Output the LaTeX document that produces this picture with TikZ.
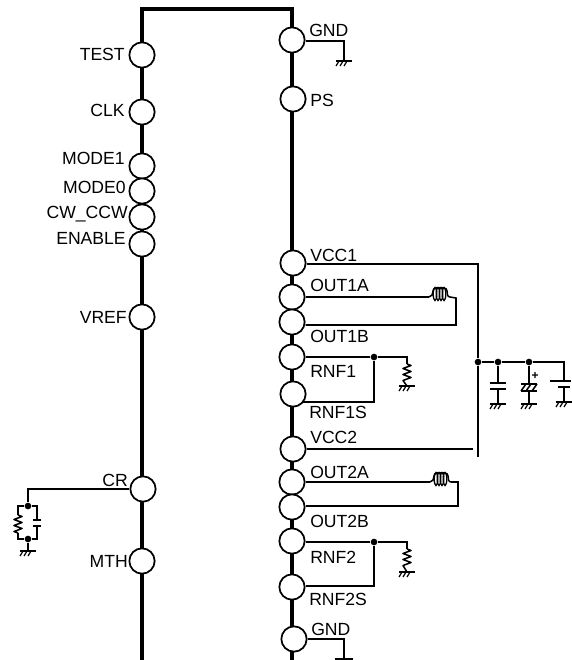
\documentclass[tikz,border=0pt]{standalone}
\usepackage{fontspec}
\setmainfont{Liberation Sans}
\newcommand{\gndsym}[2]{% plate with hatches at x,y
  \draw[wire] (#1-8,#2) -- (#1+8,#2);
  \foreach \dx in {-5,-1,3} \draw[hatch] (#1+\dx,#2) -- (#1+\dx-3,#2+5);
}
\newcommand{\vres}[3]{% vertical zigzag resistor at x from y1 to y2
  \draw[wire,line join=round] (#1,#2)
    -- ++(4,1.5) -- ++(-8,3) -- ++(8,3) -- ++(-8,3) -- ++(8,3) -- ++(-8,3) -- (#1,#3);
}
\newcommand{\coilsym}[2]{% coil starting at x,y, 21 px wide
  \draw[wire] (#1,#2) to[out=0,in=-90] (#1+4,#2-6) to[out=90,in=180] (#1+7,#2-9)
     -- (#1+15,#2-9) to[out=0,in=90] (#1+18,#2-6) to[out=-90,in=180] (#1+21,#2);
  \foreach \dx in {6,9,12,15}
    \draw[coilwire] (#1+\dx,#2-3) ellipse (1.8 and 6.5);
}
\tikzset{
  x=0.75pt,y=-0.75pt,
  wire/.style={line width=1.15pt},
  hatch/.style={line width=0.9pt},
  coilwire/.style={line width=1pt},
  pin/.style={circle,draw,fill=white,line width=1.3pt,minimum size=19pt,inner sep=0pt},
  dot/.style={circle,fill=black,inner sep=0pt,minimum size=5pt},
  lbl/.style={inner sep=0pt,font=\fontsize{13.2}{13.2}\selectfont},
  ll/.style={lbl,anchor=base east},
  rl/.style={lbl,anchor=base west},
}
\begin{document}
\begin{tikzpicture}
\useasboundingbox (0,0) rectangle (571,660);
% body
\coordinate (bl) at (142,660); \coordinate (tl) at (142,9);
\coordinate (tr) at (292,9);   \coordinate (br) at (292,660);
\draw[line width=2.8pt,line join=miter] (bl) -- (tl) -- (tr) -- (br);
% left pins
\node[pin] (test) at (142,55) {};
\node[pin] (clk) at (142,112) {};
\node[pin] (mode1) at (142,166) {};
\node[pin] (mode0) at (142,191) {};
\node[pin] (cw) at (142,217) {};
\node[pin] (enable) at (142,244) {};
\node[pin] (vref) at (142,317) {};
\node[pin] (cr) at (143,489) {};
\node[pin] (mth) at (142,561) {};
% right pins
\node[pin] (gnda) at (292,40) {};
\node[pin] (ps) at (293,99) {};
\node[pin] (vcca) at (293,263) {};
\node[pin] (outaa) at (292,297) {};
\node[pin] (outab) at (292,322) {};
\node[pin] (rnfa) at (292,357) {};
\node[pin] (rnfas) at (293,394) {};
\node[pin] (vccb) at (293,449) {};
\node[pin] (outba) at (292,482) {};
\node[pin] (outbb) at (292,507) {};
\node[pin] (rnfb) at (292,541) {};
\node[pin] (rnfbs) at (292,587) {};
\node[pin] (gndb) at (294,639) {};
% left labels
\node[ll] (ltest) at (125,61) {TEST};
\node[ll] (lclk) at (125,117) {CLK};
\node[ll] (lm1) at (125,164) {MODE1};
\node[ll] (lm0) at (126,193) {MODE0};
\node[ll] (lcw) at (128,218) {CW\_CCW};
\node[ll] (len) at (126,244) {ENABLE};
\node[ll] (lvref) at (127,323) {VREF};
\node[ll] (lcr) at (128,486) {CR};
\node[ll] (lmth) at (128,567) {MTH};
% right labels
\node[rl] (lgnda) at (309,37) {GND};
\node[rl] (lps) at (310,106) {PS};
\node[rl] (lvcca) at (310,261) {VCC1};
\node[rl] (loaa) at (310,291) {OUT1A};
\node[rl] (loab) at (310,342) {OUT1B};
\node[rl] (lra) at (310,377) {RNF1};
\node[rl] (lras) at (309,418) {RNF1S};
\node[rl] (lvccb) at (310,443) {VCC2};
\node[rl] (loba) at (310,478) {OUT2A};
\node[rl] (lobb) at (310,527) {OUT2B};
\node[rl] (lrb) at (310,563) {RNF2};
\node[rl] (lrbs) at (309,605) {RNF2S};
\node[rl] (lgndb) at (311,635) {GND};
% GND 1
\coordinate (g1c) at (344,41); \coordinate (g1e) at (344,61);
\draw[wire] (gnda.east |- g1c) -- (g1c) -- (g1e);
\gndsym{344}{61}
% GND 2
\coordinate (g2c) at (344,639); \coordinate (g2e) at (344,659);
\coordinate (g2l) at (335,659); \coordinate (g2r) at (353,659);
\draw[wire] (gndb.east) -- (g2c) -- (g2e);
\draw[wire] (g2l) -- (g2r);
% supply rail
\coordinate (vc) at (478,264); \coordinate (ve) at (478,457);
\node[dot] (j0) at (478,362) {};
\draw[wire] (vcca.east |- vc) -- (vc) -- (j0) -- (ve);
\coordinate (vccbe) at (473,449);
\draw[wire] (vccb.east) -- (vccbe);
\node[dot] (j1) at (498,362) {};
\node[dot] (j2) at (529,362) {};
\coordinate (bc) at (564,362);
\draw[wire] (j0) -- (j1) -- (j2) -- (bc) -- (564,381);
% cap
\draw[wire] (j1) -- (498,383);
\draw[wire] (490,383) -- (506,383);
\draw[wire] (490,389) -- (506,389);
\draw[wire] (498,389) -- (498,404);
\gndsym{498}{404}
% electrolytic
\draw[wire] (j2) -- (529,384);
\draw[wire] (521,384) -- (537,384);
\draw[wire] (521,391) -- (537,391);
\draw[wire] (526,384) -- (521,391) (531,384) -- (526,391) (537,384) -- (532,391);
\draw[wire] (529,391) -- (529,404);
\gndsym{529}{404}
\node[inner sep=0pt,font=\fontsize{9}{9}\selectfont\bfseries] (plus) at (535,376) {+};
% battery
\draw[wire] (550,381) -- (571,381);
\draw[wire] (558,387) -- (570,387);
\draw[wire] (564,387) -- (564,402);
\gndsym{564}{402}
% OUT1 coil
\coordinate (ca1) at (429,297);
\coordinate (ca2) at (450,297);
\coordinate (ca3) at (456,298);
\coordinate (ca4) at (456,325);
\draw[wire] (outaa.east) -- (ca1);
\coilsym{429}{297}
\draw[wire] (ca2) -- (ca3) -- (ca4) -- (outab.east |- ca4);
% RNF1
\node[dot] (ja) at (374,357) {};
\coordinate (ra1) at (407,357);
\coordinate (ra3) at (375,402);
\draw[wire] (rnfa.east) -- (ja) -- (ra1) -- (407,364);
\vres{407}{364}{386}
\gndsym{407}{386}
\draw[wire] (ja) -- (374,402) -- (rnfas.south east |- ra3);
% OUT2 coil
\coordinate (cb1) at (430,482);
\coordinate (cb2) at (451,482);
\coordinate (cb3) at (458,482);
\coordinate (cb4) at (458,506);
\draw[wire] (outba.east) -- (cb1);
\coilsym{430}{482}
\draw[wire] (cb2) -- (cb3) -- (cb4) -- (outbb.east |- cb4);
% RNF2
\node[dot] (jb) at (374,542) {};
\coordinate (rb1) at (407,542);
\draw[wire] (rnfb.east |- jb) -- (jb) -- (rb1) -- (407,549);
\vres{407}{549}{572}
\gndsym{407}{572}
\draw[wire] (jb) -- (374,586) -- (rnfbs.east |- 0,586);
% CR network
\node[dot] (jc) at (28,506) {};
\node[dot] (jd) at (28,539) {};
\coordinate (cc) at (28,489);
\draw[wire] (cr.west) -- (cc) -- (jc);
\draw[wire] (jc) -- (18,506) -- (18,515);
\vres{18}{515}{533}
\draw[wire] (18,533) -- (18,539) -- (jd);
\draw[wire] (jc) -- (37,506) -- (37,520);
\draw[wire] (33,520) -- (41,520);
\draw[wire] (33,526) -- (41,526);
\draw[wire] (37,526) -- (37,539) -- (jd);
\draw[wire] (jd) -- (28,551);
\gndsym{28}{551}
\end{tikzpicture}
\end{document}
